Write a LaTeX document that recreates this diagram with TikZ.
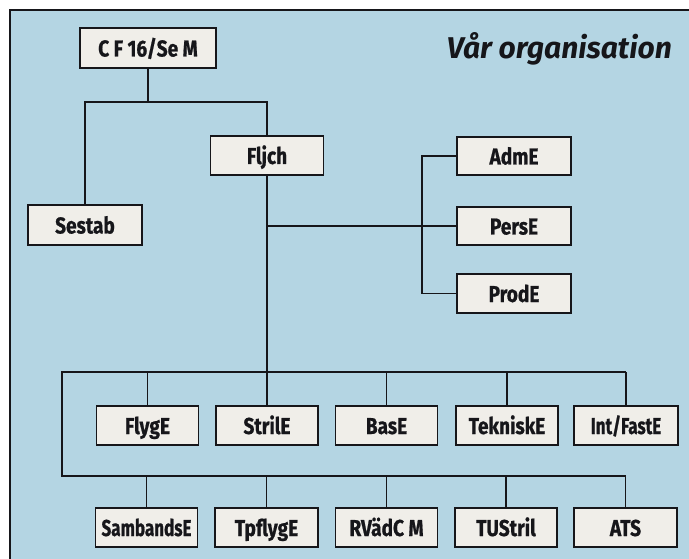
\documentclass[tikz,border=0pt]{standalone}
\usepackage{fontspec}
\setmainfont{Fira Sans}
\newfontfamily\boxfont{Fira Sans}[FakeStretch=0.83, BoldFeatures={FakeBold=0.8}]
\newfontfamily\boxfontnarrow{Fira Sans}[FakeStretch=0.74, BoldFeatures={FakeBold=0.8}]
\definecolor{panel}{RGB}{180,213,227}
\definecolor{boxfill}{RGB}{240,238,233}
\definecolor{ink}{RGB}{22,22,26}
\begin{document}
\begin{tikzpicture}[x=1pt,y=-1pt,
  orgbox/.style={draw=ink, line width=1.4pt, fill=boxfill, minimum width=102pt,
    minimum height=39pt, inner sep=0pt, text height=17pt, text depth=0pt,
    font=\boxfont\bfseries\fontsize{23}{27}\selectfont, text=ink},
  narrowtext/.style={font=\boxfontnarrow\bfseries\fontsize{23}{27}\selectfont},
  link/.style={draw=ink, line width=1.2pt}]
\useasboundingbox (0,0) rectangle (689,559);
\fill[white] (0,0) rectangle (689,559);
\fill[panel] (10,10) rectangle (689,559);
\draw[ink, line width=1.5pt] (10,559) -- (10,10) -- (689,10);

% title
\node[anchor=base east, inner sep=0pt, text=ink,
  font=\bfseries\itshape\fontsize{30}{34}\selectfont] (title) at (672,59) {Vår organisation};

% top
\node[orgbox, minimum width=136pt, minimum height=40pt] (cf) at (148,48) {C F 16/Se M};
\node[orgbox, minimum width=113pt] (fljch) at (267,155.5) {Fljch};
\node[orgbox, minimum width=114pt, minimum height=40pt] (sestab) at (85,225) {Sestab};

% staff
\node[orgbox, minimum width=114pt, minimum height=38pt] (adme) at (514,156) {AdmE};
\node[orgbox, minimum width=114pt, minimum height=38pt] (perse) at (514,226) {PersE};
\node[orgbox, minimum width=114pt] (prode) at (514,293.5) {ProdE};

% upper row
\node[orgbox] (flyge) at (147.5,425.5) {FlygE};
\node[orgbox] (strile) at (267,425.5) {StrilE};
\node[orgbox] (base) at (386.5,425.5) {BasE};
\node[orgbox] (tekn) at (507,425.5) {TekniskE};
\node[orgbox, narrowtext, minimum width=104pt] (intf) at (626,425.5) {Int/FastE};

% lower row
\node[orgbox, narrowtext] (samb) at (146.5,527.5) {SambandsE};
\node[orgbox, minimum width=103pt] (tpfl) at (266.5,527.5) {TpflygE};
\node[orgbox] (rvad) at (386.5,527.5) {RVädC M};
\node[orgbox] (tustr) at (506,527.5) {TUStril};
\node[orgbox, minimum width=103pt] (ats) at (625.5,527.5) {ATS};

% junction coordinates
\coordinate (j1) at (148,102);
\coordinate (sx) at (422,0);
\coordinate (ub) at (62,372);
\coordinate (lb) at (62,476);

% connectors top
\draw[link] (cf.south) -- (cf.south |- j1);
\draw[link] (sestab.north) -- (sestab.north |- j1) -- (fljch.north |- j1) -- (fljch.north);
\draw[link] (fljch.south) -- (fljch.south |- strile.north);

% staff
\draw[link] (fljch.south |- perse.west) -- (perse.west);
\draw[link] (adme.west) -- (adme.west -| sx) -- (prode.west -| sx) -- (prode.west);

% buses
\draw[link] (intf.north |- ub) -- (ub) -- (lb) -- (lb -| ats.north) -- (ats.north);
\draw[link] (intf.north) -- (intf.north |- ub);
\draw[link] (flyge.north) -- (flyge.north |- ub);
\draw[link] (base.north) -- (base.north |- ub);
\draw[link] (tekn.north) -- (tekn.north |- ub);
\draw[link] (samb.north) -- (samb.north |- lb);
\draw[link] (tpfl.north) -- (tpfl.north |- lb);
\draw[link] (rvad.north) -- (rvad.north |- lb);
\draw[link] (tustr.north) -- (tustr.north |- lb);
\end{tikzpicture}
\end{document}
